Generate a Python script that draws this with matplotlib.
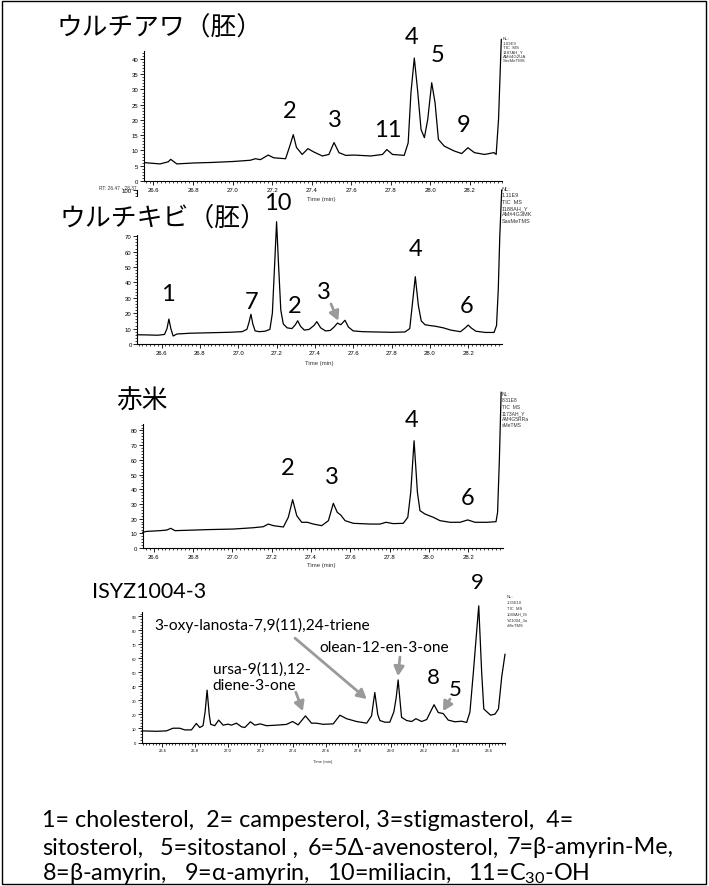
import matplotlib
matplotlib.use('Agg')
import matplotlib.pyplot as plt
from matplotlib.ticker import MultipleLocator, FuncFormatter
from matplotlib.patches import Rectangle

# ---------------- data ----------------
p1_time = [26.557, 26.633, 26.675, 26.687, 26.718, 26.802, 26.904, 27.005, 27.09, 27.115,
           27.141, 27.18, 27.208, 27.268, 27.289, 27.307, 27.323, 27.352, 27.381, 27.411,
           27.454, 27.487, 27.513, 27.538, 27.572, 27.614, 27.699, 27.758, 27.78, 27.809,
           27.868, 27.888, 27.902, 27.919, 27.936, 27.953, 27.97, 27.987, 28.007, 28.024,
           28.041, 28.071, 28.122, 28.159, 28.19, 28.223, 28.274, 28.322, 28.333, 28.345, 28.359]
p1_int = [6.0, 5.6, 6.3, 7.1, 5.6, 5.9, 6.1, 6.4, 6.8, 7.3,
          7.0, 8.5, 7.6, 7.3, 11.4, 15.2, 11.0, 8.7, 10.6, 9.5,
          8.2, 8.7, 12.6, 9.3, 8.4, 8.5, 8.2, 8.7, 10.3, 8.7,
          8.4, 12.5, 28.9, 40.3, 29.5, 16.9, 14.2, 20.2, 32.2, 25.6,
          13.6, 11.4, 9.8, 9.0, 10.9, 9.3, 8.7, 9.3, 8.7, 20.2, 46.4]

p2_time = [26.473, 26.52, 26.58, 26.615, 26.628, 26.638, 26.648, 26.66, 26.68, 26.75,
           26.85, 26.95, 27.02, 27.045, 27.056, 27.066, 27.076, 27.088, 27.11, 27.14,
           27.165, 27.178, 27.19, 27.2, 27.21, 27.222, 27.235, 27.255, 27.28, 27.298,
           27.31, 27.325, 27.345, 27.37, 27.395, 27.41, 27.43, 27.455, 27.48, 27.5,
           27.518, 27.535, 27.557, 27.575, 27.6, 27.65, 27.72, 27.8, 27.87, 27.895,
           27.908, 27.924, 27.94, 27.955, 27.975, 28.0, 28.03, 28.07, 28.11, 28.16,
           28.185, 28.2, 28.215, 28.24, 28.29, 28.335, 28.348, 28.357, 28.365, 28.375]
p2_int = [6.0, 5.9, 5.7, 6.2, 10.0, 16.2, 10.0, 5.2, 6.5, 7.0,
          7.3, 7.6, 8.0, 9.5, 14.0, 19.3, 13.0, 8.5, 8.0, 8.3,
          9.5, 20.0, 52.0, 79.4, 52.0, 22.0, 13.0, 10.5, 10.0, 12.5,
          15.1, 11.5, 9.0, 9.5, 12.0, 14.5, 10.5, 8.5, 8.8, 11.0,
          13.6, 12.5, 15.4, 11.0, 8.5, 8.0, 7.8, 7.6, 7.8, 10.0,
          25.0, 43.7, 25.0, 15.0, 12.5, 12.0, 11.5, 10.5, 9.0, 8.0,
          10.5, 12.3, 10.5, 8.3, 7.5, 7.5, 12.0, 35.0, 70.0, 100.0]

p3_time = [26.544, 26.564, 26.632, 26.666, 26.687, 26.708, 26.802, 26.87, 27.005, 27.107,
           27.158, 27.183, 27.209, 27.26, 27.285, 27.307, 27.328, 27.353, 27.382, 27.412,
           27.455, 27.489, 27.514, 27.534, 27.552, 27.574, 27.616, 27.701, 27.752, 27.782,
           27.819, 27.87, 27.893, 27.908, 27.925, 27.942, 27.955, 27.981, 28.023, 28.057,
           28.108, 28.159, 28.198, 28.235, 28.295, 28.342, 28.35, 28.359, 28.368]
p3_int = [10.7, 11.3, 11.8, 12.2, 13.4, 11.8, 12.2, 12.5, 12.9, 13.8,
          14.5, 16.3, 15.2, 14.3, 20.9, 32.9, 22.0, 17.5, 17.5, 16.3,
          15.2, 18.6, 30.4, 24.3, 22.4, 18.6, 16.8, 16.3, 16.3, 17.5,
          16.6, 16.8, 20.9, 37.9, 73.0, 37.9, 25.4, 23.1, 20.9, 18.6,
          17.5, 17.5, 19.1, 17.5, 17.5, 17.9, 24.3, 60.0, 106.0]

p4_time = [26.475, 26.563, 26.625, 26.665, 26.706, 26.737, 26.778, 26.808, 26.829, 26.849,
           26.862, 26.874, 26.887, 26.896, 26.921, 26.945, 26.972, 27.002, 27.023, 27.054,
           27.085, 27.105, 27.14, 27.166, 27.2, 27.238, 27.3, 27.36, 27.398, 27.432,
           27.477, 27.514, 27.545, 27.585, 27.647, 27.688, 27.729, 27.79, 27.852, 27.882,
           27.902, 27.92, 27.933, 27.964, 27.994, 28.019, 28.033, 28.045, 28.058, 28.066,
           28.097, 28.128, 28.154, 28.189, 28.22, 28.265, 28.291, 28.321, 28.352, 28.393,
           28.434, 28.465, 28.485, 28.506, 28.539, 28.557, 28.57, 28.588, 28.612, 28.639,
           28.66, 28.68, 28.70]
p4_int = [8.3, 8.0, 8.3, 10.2, 10.2, 9.0, 9.0, 13.6, 10.7, 12.0,
          22.0, 37.4, 20.0, 13.0, 12.0, 16.0, 12.4, 13.1, 12.4, 13.8,
          11.2, 10.7, 14.8, 12.4, 13.3, 12.0, 12.4, 12.9, 15.0, 12.6,
          19.0, 13.8, 13.8, 13.0, 13.3, 19.5, 17.0, 15.0, 13.8, 19.0,
          35.7, 20.0, 15.7, 14.5, 14.5, 22.0, 32.0, 44.7, 28.0, 18.0,
          15.7, 15.0, 17.0, 15.0, 16.4, 27.0, 21.4, 20.7, 16.0, 14.8,
          15.2, 14.3, 21.7, 50.0, 97.6, 50.0, 24.0, 22.0, 19.5, 20.3,
          24.0, 47.0, 63.0]

titles = ["ウルチアワ（胚）", "ウルチキビ（胚）", "赤米", "ISYZ1004-3"]
nl_texts = ["NL:\n1.03E9\nTIC  MS\n1187AH_Y\nAM#4G2UA\nSasMeTMS",
            "NL:\n1.11E9\nTIC  MS\n1188AH_Y\nAM#4G3MK\nSasMeTMS",
            "NL:\n8.31E8\nTIC  MS\n1173AH_Y\nAM4G5RRa\nsMeTMS",
            "NL:\n1.35E10\nTIC  MS\n1040AH_IS\nYZ1004_3a\nsMeTMS"]
# peak labels (label, time, intensity position)
p1_labels = [("2", 27.288, 23.0), ("3", 27.516, 20.3), ("11", 27.785, 17.0),
             ("4", 27.907, 47.5), ("5", 28.039, 41.6), ("9", 28.17, 18.4)]
p2_labels = [("10", 27.205, 92.0), ("1", 26.633, 33.0), ("7", 27.072, 27.9),
             ("2", 27.296, 25.3), ("3", 27.448, 34.4), ("4", 27.923, 61.7), ("6", 28.194, 24.7)]
p3_labels = [("4", 27.91, 87.8), ("2", 27.284, 55.1), ("3", 27.507, 49.0), ("6", 28.195, 34.7)]
p4_labels = [("9", 28.528, 114.5), ("8", 28.258, 46.6), ("5", 28.393, 38.0)]

legend_line1 = "1= cholesterol,  2= campesterol, 3=stigmasterol,  4="
legend_line2 = ["sitosterol,", "5=sitostanol ,", "6=5Δ-avenosterol,", "7=β-amyrin-Me,"]
legend_line3 = "8=β-amyrin,   9=α-amyrin,   10=miliacin,   11=C$_\\mathregular{30}$-OH"

# ---------------- figure ----------------
W, H = 709, 887
fig = plt.figure(figsize=(W / 100, H / 100), dpi=100)
LAT = ['Lato', 'DejaVu Sans']
CJK = ['Noto Sans CJK JP', 'DejaVu Sans']
ARI = ['Liberation Sans', 'DejaVu Sans']
plt.rcParams['font.family'] = LAT


def fx(px):
    return px / W


def fy(py):
    return 1 - py / H


def make_ax(l, t, r, b, xlim, ylim, ymaj, ymin, xmaj, fs, lab_px, hide_y=()):
    ax = fig.add_axes([l / W, 1 - b / H, (r - l) / W, (b - t) / H])
    ax.set_xlim(*xlim)
    ax.set_ylim(*ylim)
    for s in ('top', 'right'):
        ax.spines[s].set_visible(False)
    for s in ('left', 'bottom'):
        ax.spines[s].set_linewidth(0.8)
    ax.xaxis.set_major_locator(MultipleLocator(xmaj))
    ax.xaxis.set_minor_locator(MultipleLocator(0.02))
    ax.yaxis.set_major_locator(MultipleLocator(ymaj))
    ax.yaxis.set_minor_locator(MultipleLocator(ymin))
    ax.tick_params(which='major', length=3, width=0.6, pad=1, labelsize=fs)
    ax.tick_params(which='minor', length=1.6, width=0.5)
    ax.xaxis.set_major_formatter(matplotlib.ticker.FormatStrFormatter('%.1f'))
    ax.yaxis.set_major_formatter(FuncFormatter(
        lambda v, p: '' if round(v) in hide_y else '%d' % round(v)))
    for lb in ax.get_xticklabels() + ax.get_yticklabels():
        lb.set_fontfamily(ARI)
    ax.set_xlabel("Time (min)", fontsize=fs, family=ARI, color='#333333')
    ax.xaxis.set_label_coords((lab_px[0] - l) / (r - l), -(lab_px[1] - b) / (b - t))
    ax.patch.set_alpha(0)
    return ax


def trace(ax, t, v):
    ax.plot(t, v, color='black', lw=0.9, clip_on=False)


def labels(ax, labs, fs=17):
    for s, t, v in labs:
        ax.text(t, v, s, ha='center', va='center', fontsize=fs, family=LAT,
                clip_on=False, zorder=6)


def arrow(ax, tail, tip):
    ax.annotate('', xy=tip, xytext=tail,
                arrowprops=dict(arrowstyle='-|>,head_length=0.55,head_width=0.3',
                                color='#9a9a9a', lw=2.0, shrinkA=0, shrinkB=0),
                annotation_clip=False)


# panel 1
ax1 = make_ax(144, 52, 501.7, 182, (26.552, 28.361), (0, 42.6), 5, 1, 0.2, 4.3, (321.7, 196.7))
trace(ax1, p1_time, p1_int)
labels(ax1, p1_labels)
fig.text(fx(137), fy(188), "RT: 26.47 - 28.37", fontsize=3.5, family=ARI, va='center',
         ha='right', color='#333333')

# panel 2
ax2 = make_ax(137.3, 191, 501.7, 345, (26.473, 28.375), (0, 100), 10, 2, 0.2, 4.3, (319, 361),
              hide_y=(80, 90))
trace(ax2, p2_time, p2_int)
labels(ax2, p2_labels)
arrow(ax2, (27.484, 26.0), (27.522, 15.1))

# panel 3
ax3 = make_ax(142.7, 425, 502.7, 549, (26.544, 28.376), (0, 84.4), 10, 2, 0.2, 4.3, (321.7, 563))
trace(ax3, p3_time, p3_int)
labels(ax3, p3_labels)

# panel 4
ax4 = make_ax(142, 613, 505, 743.5, (26.475, 28.70), (0, 93.2), 10, 2, 0.2, 3.0, (323, 760))
trace(ax4, p4_time, p4_int)
labels(ax4, p4_labels, fs=16)
arrow(ax4, (28.363, 31.0), (28.32, 22.4))
ax4.text(26.553, 84.5, "3-oxy-lanosta-7,9(11),24-triene", fontsize=11.2, family=LAT,
         ha='left', va='center', clip_on=False)
arrow(ax4, (27.413, 74.5), (27.853, 31.0))
ax4.text(27.565, 68.1, "olean-12-en-3-one", fontsize=11.2, family=LAT,
         ha='left', va='center', clip_on=False)
arrow(ax4, (28.056, 61.0), (28.044, 47.4))
ax4.text(26.909, 47.0, "ursa-9(11),12-\ndiene-3-one", fontsize=11.2, family=LAT,
         ha='left', va='center', linespacing=1.2, clip_on=False)
arrow(ax4, (27.418, 35.9), (27.461, 22.4))

# titles
fig.text(fx(160), fy(29), titles[0], fontsize=18.5, family=CJK, ha='center', va='center')
# white patch behind the second title hides the upper part of the y axis, as in the original
fig.add_artist(Rectangle((fx(118), fy(236)), fx(50), 38 / H, transform=fig.transFigure,
                         facecolor='white', edgecolor='none', zorder=4))
fig.text(fx(163), fy(218), titles[1], fontsize=18.6, family=CJK, ha='center', va='center',
         zorder=5)
fig.text(fx(142), fy(402), titles[2], fontsize=18.5, family=CJK, ha='center', va='center')
fig.text(fx(149), fy(592), titles[3], fontsize=15.5, family=LAT, ha='center', va='center')

# NL info texts
fig.text(fx(503), fy(37.5), nl_texts[0], fontsize=3.2, family=ARI, va='top', linespacing=1.13, color='#333333')
fig.text(fx(502), fy(187), nl_texts[1], fontsize=4.0, family=ARI, va='top', linespacing=1.33, color='#333333')
fig.text(fx(502), fy(392), nl_texts[2], fontsize=3.6, family=ARI, va='top', linespacing=1.32, color='#333333')
fig.text(fx(507), fy(595), nl_texts[3], fontsize=3.0, family=ARI, va='top', linespacing=1.6, color='#333333')

# bottom legend text
LFS = 16.8
fig.text(fx(42), fy(821), legend_line1, fontsize=LFS, family=LAT, ha='left', va='center')
for seg, px in zip(legend_line2, [42, 160, 308, 507]):
    fig.text(fx(px), fy(848), seg, fontsize=LFS, family=LAT, ha='left', va='center')
fig.text(fx(42), fy(874), legend_line3, fontsize=LFS, family=LAT, ha='left', va='center')

# outer frame
fig.add_artist(Rectangle((fx(2), fy(885)), fx(704), 883 / H, transform=fig.transFigure,
                         fill=False, edgecolor='black', lw=1.0))

fig.savefig('out.png', dpi=100)
